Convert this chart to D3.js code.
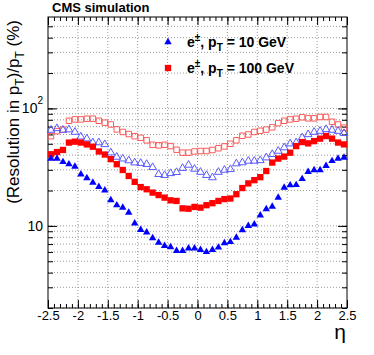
<!DOCTYPE html>
<html>
<head>
<meta charset="utf-8">
<script src="https://cdn.jsdelivr.net/npm/d3@7"></script>
<style>
  body { margin: 0; background: #fff; }
  svg { font-family: "Liberation Sans", Arial, sans-serif; }
</style>
</head>
<body>
<svg id="chart" width="374" height="355"></svg>
<script>
// bin centres in eta
const eta = [-2.45, -2.35, -2.25, -2.15, -2.05, -1.95, -1.85, -1.75, -1.65, -1.55,
  -1.45, -1.35, -1.25, -1.15, -1.05, -0.95, -0.85, -0.75, -0.65, -0.55,
  -0.45, -0.35, -0.25, -0.15, -0.05, 0.05, 0.15, 0.25, 0.35, 0.45,
  0.55, 0.65, 0.75, 0.85, 0.95, 1.05, 1.15, 1.25, 1.35, 1.45,
  1.55, 1.65, 1.75, 1.85, 1.95, 2.05, 2.15, 2.25, 2.35, 2.45];

// e, pT = 10 GeV (filled triangles)
const pt10 = [37.4, 37.4, 35, 33.5, 32, 27.5, 25.5, 23.4, 21.5, 20.1,
  16.6, 15, 14.3, 13, 10.5, 9.25, 8.8, 7.87, 7.22, 6.76,
  6.6, 6.14, 6.14, 6.43, 6.43, 6.25, 6.0, 6.25, 6.55, 7.13,
  7.3, 7.96, 9.2, 10, 10.3, 12.3, 13.9, 14.6, 17.4, 21.2,
  22.2, 22.3, 25.1, 28.8, 29.9, 29.9, 32.4, 35.7, 37.4, 38.1];

// pT = 10 GeV, open triangles
const pt10open = [65.5, 67.6, 65.5, 66, 62.9, 57.4, 55.3, 51.2, 51.2, 49.4,
  42, 38.6, 37.3, 36, 34.5, 34.2, 33.5, 31.5, 27.5, 27,
  28, 28.6, 31, 33, 30.5, 28.7, 27, 25.8, 28.7, 29.9,
  30.3, 33.9, 34.6, 35.7, 35.7, 36.1, 38.1, 40.7, 43.4, 46.4,
  50.1, 51.2, 56.4, 60.1, 62.9, 64.1, 66.3, 65.5, 64.1, 61.4];

// e, pT = 100 GeV (filled squares)
const pt100 = [40.7, 42.5, 44.3, 51.2, 52.1, 51.2, 49.4, 47.2, 43, 40.5,
  37, 33.5, 29.9, 26.6, 23.7, 21.4, 20.5, 19.2, 18.3, 17.4,
  16.5, 16.3, 14.1, 14, 14.5, 14.3, 15, 15.6, 16.3, 16.9,
  17.1, 18.6, 21, 23, 24.5, 26, 29.3, 34.6, 37.4, 38.9,
  42, 47.8, 51.7, 50.4, 52.7, 55.3, 58.2, 55.3, 51.2, 49.4];

// pT = 100 GeV, open squares
const pt100open = [58, 64, 66, 78.5, 80.6, 80.6, 81.7, 81.7, 78.5, 75.6,
  73, 66.3, 63, 60.5, 58, 56.2, 53.5, 49, 48.5, 49,
  47.8, 44.5, 42, 42, 43, 43.4, 43.4, 44.3, 45.8, 47.5,
  50, 53.5, 58.5, 60, 63, 64.5, 66, 69, 75, 78.5,
  80.6, 81.7, 84, 82.3, 82.3, 84.5, 84.5, 77, 73, 68.6];

const xTicks = [-2.5, -2, -1.5, -1, -0.5, 0, 0.5, 1, 1.5, 2, 2.5];
const yGrid = [2, 3, 4, 5, 6, 7, 8, 9, 10, 20, 30, 40, 50, 60, 70, 80, 90, 100, 200, 300, 400, 500];
const yLabels = [10, 100];

const svg = d3.select("#chart");
const margin = { top: 17, right: 27, bottom: 47, left: 48 };
const width = 374 - margin.left - margin.right;
const height = 355 - margin.top - margin.bottom;

const g = svg.append("g")
  .attr("transform", "translate(" + margin.left + "," + margin.top + ")");

const x = d3.scaleLinear().domain([-2.5, 2.5]).range([0, width]);
const y = d3.scaleLog().domain([2, 600]).range([height, 0]);

// dotted grid
g.append("g").selectAll("line").data(yGrid).enter().append("line")
  .attr("x1", 0).attr("x2", width)
  .attr("y1", d => y(d)).attr("y2", d => y(d))
  .attr("stroke", "#9a9a9a").attr("stroke-dasharray", "1,2");
g.append("g").selectAll("line").data(xTicks.slice(1, -1)).enter().append("line")
  .attr("y1", 0).attr("y2", height)
  .attr("x1", d => x(d)).attr("x2", d => x(d))
  .attr("stroke", "#9a9a9a").attr("stroke-dasharray", "1,2");

// minor x ticks every 0.1
const xMinor = d3.range(-25, 26).map(i => i / 10);

function style(sel) {
  sel.select(".domain").remove();
  sel.selectAll("line").attr("stroke", "#000");
}

// bottom
g.append("g").attr("transform", "translate(0," + height + ")")
  .call(d3.axisBottom(x).tickValues(xMinor).tickSize(-4).tickFormat(""))
  .call(style);
g.append("g").attr("transform", "translate(0," + height + ")")
  .call(d3.axisBottom(x).tickValues(xTicks).tickSize(-8).tickPadding(3).tickFormat(d => String(d)))
  .call(style)
  .selectAll("text").attr("font-size", 13).attr("fill", "#000")
  .attr("font-family", "Liberation Sans, Arial, sans-serif");
// top
g.append("g")
  .call(d3.axisTop(x).tickValues(xMinor).tickSize(-4).tickFormat(""))
  .call(style);
g.append("g")
  .call(d3.axisTop(x).tickValues(xTicks).tickSize(-8).tickFormat(""))
  .call(style);
// left / right
g.append("g")
  .call(d3.axisLeft(y).tickValues(yGrid).tickSize(-5).tickFormat(""))
  .call(style);
g.append("g")
  .call(d3.axisLeft(y).tickValues(yLabels).tickSize(-9).tickFormat(""))
  .call(style);
g.append("g").attr("transform", "translate(" + width + ",0)")
  .call(d3.axisRight(y).tickValues(yGrid).tickSize(-5).tickFormat(""))
  .call(style);
g.append("g").attr("transform", "translate(" + width + ",0)")
  .call(d3.axisRight(y).tickValues(yLabels).tickSize(-9).tickFormat(""))
  .call(style);

// y labels 10 and 10^2
g.append("text").attr("x", -5).attr("y", y(10)).attr("dy", "0.36em")
  .attr("text-anchor", "end").attr("font-size", 14).text("10");
const l100 = g.append("text").attr("x", -5).attr("y", y(100)).attr("dy", "0.36em")
  .attr("text-anchor", "end").attr("font-size", 14);
l100.append("tspan").text("10");
l100.append("tspan").attr("font-size", 10).attr("dy", "-0.9em").text("2");

// frame
g.append("rect").attr("width", width).attr("height", height)
  .attr("fill", "none").attr("stroke", "#000").attr("stroke-width", 1);

// markers
const tri = d3.symbol().type(d3.symbolTriangle);
const sq = d3.symbol().type(d3.symbolSquare);

g.append("g").selectAll("path").data(eta).enter().append("path")
  .attr("transform", (d, i) => "translate(" + x(d) + "," + y(pt100open[i]) + ")")
  .attr("d", sq.size(30)())
  .attr("fill", "none").attr("stroke", "#ff5a5a").attr("stroke-width", 1);

g.append("g").selectAll("path").data(eta).enter().append("path")
  .attr("transform", (d, i) => "translate(" + x(d) + "," + y(pt10open[i]) + ")")
  .attr("d", tri.size(26)())
  .attr("fill", "none").attr("stroke", "#5a5aff").attr("stroke-width", 1);

g.append("g").selectAll("path").data(eta).enter().append("path")
  .attr("transform", (d, i) => "translate(" + x(d) + "," + y(pt100[i]) + ")")
  .attr("d", sq.size(40)())
  .attr("fill", "#ff0000");

g.append("g").selectAll("path").data(eta).enter().append("path")
  .attr("transform", (d, i) => "translate(" + x(d) + "," + y(pt10[i]) + ")")
  .attr("d", tri.size(24)())
  .attr("fill", "#0000ff");

// legend
const leg = svg.append("g").attr("font-weight", "bold").attr("font-size", 14);
leg.append("path").attr("transform", "translate(168,42)")
  .attr("d", tri.size(24)()).attr("fill", "#0000ff");
leg.append("path").attr("transform", "translate(168,68)")
  .attr("d", sq.size(40)()).attr("fill", "#ff0000");

function legendText(yy, txt) {
  const t = leg.append("text").attr("x", 187).attr("y", yy);
  t.append("tspan").text("e");
  t.append("tspan").attr("font-size", 10).attr("dy", -6).text("\u00b1");
  t.append("tspan").attr("dy", 6).text(", p");
  t.append("tspan").attr("font-size", 10).attr("dy", 4).text("T");
  t.append("tspan").attr("dy", -4).text(" = " + txt);
}
legendText(47, "10 GeV");
legendText(73, "100 GeV");

// title
svg.append("text").attr("x", 52).attr("y", 12)
  .attr("font-weight", "bold").attr("font-size", 13).text("CMS simulation");

// axis titles
const yt = svg.append("text").attr("transform", "translate(19,20) rotate(-90)")
  .attr("text-anchor", "end").attr("font-size", 17);
yt.append("tspan").text("(Resolution in p");
yt.append("tspan").attr("font-size", 12).attr("dy", 5).text("T");
yt.append("tspan").attr("dy", -5).text(")/p");
yt.append("tspan").attr("font-size", 12).attr("dy", 5).text("T");
yt.append("tspan").attr("dy", -5).text(" (%)");

svg.append("text").attr("x", 346).attr("y", 339)
  .attr("text-anchor", "end").attr("font-size", 21).text("\u03b7");
</script>
</body>
</html>
